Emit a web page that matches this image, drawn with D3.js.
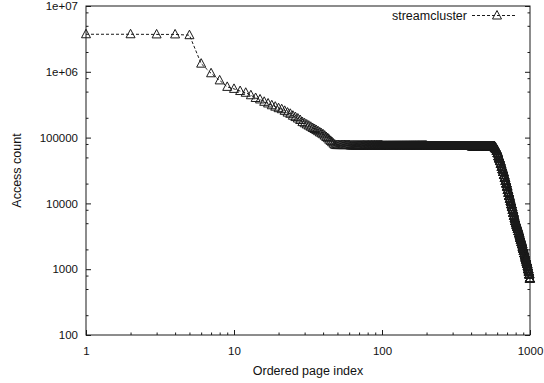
<!DOCTYPE html>
<html lang="en">
<head>
    <meta charset="UTF-8">
    <title>streamcluster page access counts</title>
    <script src="https://d3js.org/d3.v7.min.js"></script>
    <style>
        body { margin: 0; background: #fff; }
        text { font-family: "Liberation Sans", Arial, Helvetica, sans-serif; font-size: 12.5px; fill: #111; }
        .tick text { font-size: 11.5px; }
    </style>
</head>
<body>

<div id="chart"></div>

<script>
// access count of the 48 hottest pages, one value per page (pages 1..48)
var headCounts = [
    3.72e6, 3.72e6, 3.7e6, 3.7e6, 3.6e6,
    1.33e6, 9.5e5, 7.4e5, 5.9e5, 5.5e5, 5.1e5, 4.8e5, 4.4e5, 4.0e5, 3.8e5,
    3.5e5, 3.3e5, 3.1e5, 2.95e5, 2.8e5, 2.7e5, 2.55e5, 2.4e5, 2.3e5, 2.15e5,
    2.05e5, 1.95e5, 1.85e5, 1.72e5, 1.65e5, 1.58e5, 1.52e5, 1.46e5, 1.4e5,
    1.35e5, 1.3e5, 1.25e5, 1.2e5, 1.16e5, 1.12e5, 1.07e5, 1.02e5, 9.8e4,
    9.3e4, 8.9e4, 8.5e4, 8.1e4, 7.8e4
];

// remaining pages as runs: each run starts at runStart[k] and lasts until the next run
// (the last one until lastPage); all its pages have about runCount[k] accesses
var runStart = [49, 61, 101, 201, 401,
                570, 578, 586, 594, 602, 610, 618, 626, 634, 642, 650, 658, 666, 674, 682,
                690, 698, 706, 714, 722, 730, 738, 746, 754, 762, 770, 778, 786, 794, 802,
                810, 818, 826, 834, 842, 850, 858, 866, 874, 882, 890, 898, 906, 914, 922,
                930, 938, 946, 954, 962, 970, 978, 986, 994];
var runCount = [7.7e4, 7.6e4, 7.5e4, 7.45e4, 7.4e4,
                7.3e4, 7.0e4, 6.7e4, 6.3e4, 5.8e4, 5.2e4, 4.8e4, 4.4e4, 4.0e4, 3.6e4,
                3.3e4, 3.0e4, 2.7e4, 2.45e4, 2.2e4, 2.0e4, 1.8e4, 1.6e4, 1.45e4, 1.3e4,
                1.18e4, 1.07e4, 9.7e3, 8.8e3, 8.0e3, 7.2e3, 6.5e3, 5.9e3, 5.4e3, 5.0e3,
                4.7e3, 4.4e3, 4.1e3, 3.8e3, 3.5e3, 3.25e3, 3.0e3, 2.8e3, 2.6e3, 2.4e3,
                2.2e3, 2.05e3, 1.9e3, 1.75e3, 1.62e3, 1.5e3, 1.4e3, 1.3e3, 1.2e3, 1.1e3,
                1.0e3, 920, 830, 720];
var lastPage = 1000;

var yMajor = [100, 1e3, 1e4, 1e5, 1e6, 1e7];
var yLabels = ["100", "1000", "10000", "100000", "1e+06", "1e+07"];
var xMajor = [1, 10, 100, 1000];
var xLabels = ["1", "10", "100", "1000"];
var seriesName = "streamcluster";

var data = headCounts.map(function(c, i) { return { page: i + 1, count: c }; });
runStart.forEach(function(p0, k) {
    var p1 = k + 1 < runStart.length ? runStart[k + 1] - 1 : lastPage;
    for (var p = p0; p <= p1; p++) data.push({ page: p, count: runCount[k] });
});

var width = 544, height = 383;
var plotL = 86, plotR = 530, plotT = 6, plotB = 335;

var x = d3.scaleLog().domain([1, 1000]).range([plotL, plotR]);
var y = d3.scaleLog().domain([100, 1e7]).range([plotB, plotT]);

var yMinor = [];
for (var e = 2; e < 7; e++) [2, 5, 8].forEach(function(m) { yMinor.push(m * Math.pow(10, e)); });
var xMinor = [];
for (var e2 = 0; e2 < 3; e2++) for (var m = 2; m <= 9; m++) xMinor.push(m * Math.pow(10, e2));

var svg = d3.select("#chart").append("svg")
    .attr("width", width)
    .attr("height", height);

var ink = "#1a1a1a";

// y axis, left (labels) and right (mirror)
svg.append("g")
    .attr("transform", "translate(" + plotL + ",0)")
    .call(d3.axisLeft(y).tickValues(yMajor).tickSizeInner(-5).tickSizeOuter(0).tickPadding(8)
        .tickFormat(function(d, i) { return yLabels[i]; }));
svg.append("g")
    .attr("transform", "translate(" + plotL + ",0)")
    .call(d3.axisLeft(y).tickValues(yMinor).tickSizeInner(-2.5).tickSizeOuter(0).tickFormat(""));
svg.append("g")
    .attr("transform", "translate(" + plotR + ",0)")
    .call(d3.axisRight(y).tickValues(yMajor).tickSizeInner(-5).tickSizeOuter(0).tickFormat(""));
svg.append("g")
    .attr("transform", "translate(" + plotR + ",0)")
    .call(d3.axisRight(y).tickValues(yMinor).tickSizeInner(-2.5).tickSizeOuter(0).tickFormat(""));

// x axis
svg.append("g")
    .attr("transform", "translate(0," + plotB + ")")
    .call(d3.axisBottom(x).tickValues(xMajor).tickSizeInner(-5).tickSizeOuter(0).tickPadding(12)
        .tickFormat(function(d, i) { return xLabels[i]; }));
svg.append("g")
    .attr("transform", "translate(0," + plotB + ")")
    .call(d3.axisBottom(x).tickValues(xMinor).tickSizeInner(-2.5).tickSizeOuter(0).tickFormat(""));

svg.selectAll(".domain").remove();
svg.selectAll(".tick line").attr("stroke", ink);
svg.selectAll(".tick text").attr("font-size", null).attr("font-family", null);

svg.append("rect")
    .attr("x", plotL).attr("y", plotT)
    .attr("width", plotR - plotL).attr("height", plotB - plotT)
    .attr("fill", "none").attr("stroke", ink).attr("stroke-width", 1);

// axis titles
svg.append("text")
    .attr("transform", "translate(21," + (plotT + plotB) / 2 + ") rotate(-90)")
    .attr("text-anchor", "middle")
    .text("Access count");
svg.append("text")
    .attr("x", (plotL + plotR) / 2).attr("y", 375)
    .attr("text-anchor", "middle")
    .text("Ordered page index");

// open triangle marker centred on the data point
function tri(cx, cy) {
    return "M" + cx + "," + (cy - 5) + "L" + (cx + 4.5) + "," + (cy + 3.5) +
           "L" + (cx - 4.5) + "," + (cy + 3.5) + "Z";
}

var line = d3.line()
    .x(function(d) { return x(d.page); })
    .y(function(d) { return y(d.count); });

svg.append("path")
    .datum(data)
    .attr("d", line)
    .attr("fill", "none")
    .attr("stroke", ink)
    .attr("stroke-width", 1)
    .attr("stroke-dasharray", "3,2");

svg.selectAll(".pt")
    .data(data)
    .enter().append("path")
    .attr("class", "pt")
    .attr("d", function(d) { return tri(x(d.page), y(d.count)); })
    .attr("fill", "none")
    .attr("stroke", ink)
    .attr("stroke-width", 1);

// legend
var ly = 15.5;
svg.append("text")
    .attr("x", 467).attr("y", ly + 4)
    .attr("text-anchor", "end")
    .text(seriesName);
svg.append("line")
    .attr("x1", 472).attr("x2", 517).attr("y1", ly).attr("y2", ly)
    .attr("stroke", ink).attr("stroke-width", 1).attr("stroke-dasharray", "3,2");
svg.append("path")
    .attr("d", tri(497, ly))
    .attr("fill", "none").attr("stroke", ink).attr("stroke-width", 1);
</script>

</body>
</html>
